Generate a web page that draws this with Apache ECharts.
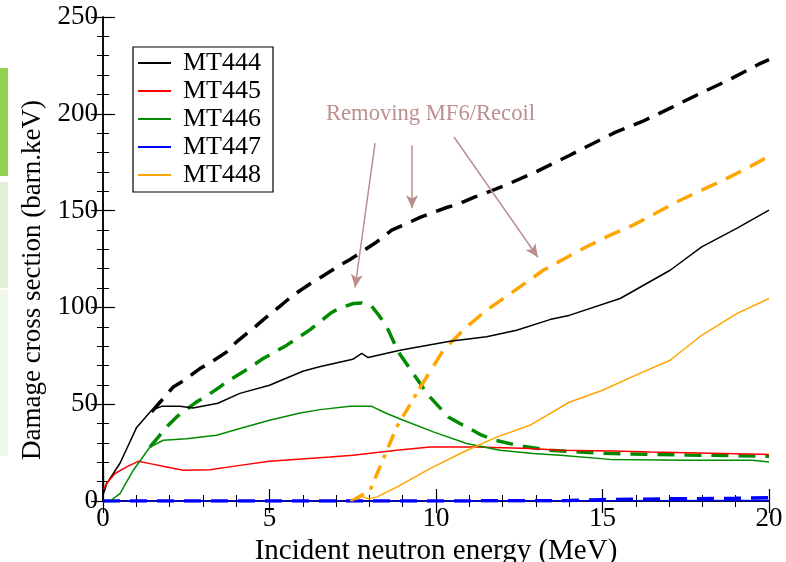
<!DOCTYPE html>
<html lang="en">
<head>
    <meta charset="utf-8">
    <title>Damage cross section</title>
    <script src="https://cdn.jsdelivr.net/npm/echarts@6.0.0/dist/echarts.min.js"></script>
</head>
<body style="margin:0; background:#fff;">
    <div id="main" style="width:786px; height:562px;"></div>

<script type="text/javascript">
// legend names (solid curves), dashed curves are the "removing MF6/recoil" versions
var names = ['MT444', 'MT445', 'MT446', 'MT447', 'MT448'];
var colors = ['#000000', '#ff0000', '#008b00', '#0000ff', '#ffa500'];

// [energy MeV, damage barn.keV]
var mt444 = [[0,32],[0.02,4],[0.11,9],[0.51,19.5],[1.01,38],[1.46,46.9],[1.76,48.9],[2.31,49],[2.7,48],
    [3.45,50.5],[4.11,55.6],[5.0,59.8],[6.0,67],[6.5,69.3],[7.5,73.2],[7.77,76.2],[7.96,74.1],[8.92,77.9],
    [10.42,82.5],[11.52,84.8],[12.42,88.2],[13.42,93.7],[14.02,96],[15.53,104.6],[17.03,119.2],
    [17.98,131.3],[19.03,140.8],[20,150.2]];
var mt445 = [[0.02,6],[0.11,9],[0.36,14.2],[0.71,17.6],[1.06,20.5],[1.41,19.3],[1.91,17.6],[2.41,15.9],
    [3.21,16.2],[4.11,18.4],[5.0,20.5],[6.82,22.7],[7.5,23.6],[8.82,26.2],[9.82,27.9],[11.22,27.9],
    [12.82,27.1],[13.73,26.2],[15.33,25.8],[16.43,25.3],[19.73,24.1],[20,24]];
var mt446 = [[0.21,0],[0.51,3.8],[0.91,15.9],[1.41,27.9],[1.81,31.4],[2.51,32.2],[3.41,34],[4.11,37.4],
    [5.0,41.7],[5.92,45.5],[6.52,47.2],[7.42,48.9],[8.07,48.9],[8.52,45.2],[9.02,41.7],[9.92,35.7],
    [10.92,29.7],[11.92,26.2],[12.92,24.5],[13.73,23.6],[15.23,21.5],[17.53,21],[19.5,21],[20,20.2]];
var mt447 = [[0,0],[5,0],[10,0],[15,0.1],[20,0.2]];
var mt448 = [[7.42,0],[7.77,2.4],[7.97,1.2],[8.22,2],[8.82,7.2],[9.82,16.7],[10.82,25.3],
    [11.82,33],[12.82,39.1],[14,51],[15,57.2],[16,65],[17.03,72.7],[17.98,85.6],[19.03,96.8],[20,104.6]];

// removing MF6/recoil (dashed)
var mt444r = [[1.46,46],[1.71,51],[2.11,58.9],[2.41,62],
    [2.91,68.4],[3.21,71.3],[3.76,77.5],[4.01,82.2],[4.56,89.9],[4.86,94.3],[5.41,102],[5.71,106.3],
    [6.27,112.8],[6.57,115.8],[7.12,121.8],[7.42,124.7],[7.92,130.4],[8.22,133.8],[8.67,139.9],
    [9.02,142.5],[9.52,146.5],[9.82,148.5],[10.32,151.6],[10.67,153.3],[11.17,157.1],[11.47,158.9],
    [12.02,162.6],[13,170],[14.02,178.6],[14.52,183],[15.38,190.4],[16.18,195.9],[17.08,203.3],
    [17.93,210.5],[18.83,217.8],[19.68,225.5],[20,228]];
var mt446r = [[1.41,27.9],[1.66,33],[1.86,37.4],[2.21,43.4],[2.41,46],
    [2.81,51.2],[3.06,53.7],[3.51,58.9],[3.71,61.5],[4.21,66.7],[4.81,73.6],[5.52,80.5],[6.22,88.5],
    [6.82,96.8],[7.07,99.4],[7.52,102],[7.77,102.3],[8.07,100.6],[8.32,95.1],[8.57,88.2],[8.87,77],
    [9.32,65.8],[9.77,54.6],[10.37,43.4],[10.72,40],[11.02,37.4],[11.37,34],[11.77,31.4],[12.42,28.8],
    [13.42,26.2],[14.83,24.8],[15.33,24.5],[17.5,23.8],[20,23.1]];
var mt447r = [[0,0],[5,0],[10,0],[14,0.2],[15,0.7],[17,1.1],[19,1.4],[20,1.7]];
var mt448rLow = [[7.47,0],[8.02,5.5],[8.82,38.2],[9.5,58]];
var mt448r = [[9.5,58],[10.22,77.9],[10.92,89.9],[11.52,98.6],
    [12.52,110.6],[13.22,119.2],[13.87,125.3],[14.52,131.3],[15.23,137.3],[15.92,142.5],[16.58,148.5],
    [17.23,154.5],[17.98,160.6],[18.63,165.7],[19.33,171.8],[20,178.1]];

// annotation arrows [from, to] in data coords
var arrows = [[[8.17,184.9],[7.57,110.3]], [[9.28,183.8],[9.28,151.2]], [[10.54,188],[13.06,125.9]]];

var font = "'Liberation Serif', 'DejaVu Serif', 'Times New Roman', serif";
var myChart = echarts.init(document.getElementById('main'));

function solid(name, data, color) {
  return { name: name, type: 'line', data: data, symbol: 'none', z: 3,
    lineStyle: { color: color, width: 1.5 }, itemStyle: { color: color } };
}
function dashed(data, color, dash) {
  return { name: '', type: 'line', data: data, symbol: 'none', z: 2,
    lineStyle: { color: color, width: 3.5, type: dash || [17, 10] }, itemStyle: { color: color } };
}

var series = [
  dashed(mt444r, colors[0]), dashed(mt446r, colors[2]),
  dashed(mt447r, colors[3]), dashed(mt448r, colors[4]),
  dashed(mt448rLow, colors[4], [14, 8, 4, 8]),
  solid(names[0], mt444, colors[0]), solid(names[1], mt445, colors[1]), solid(names[2], mt446, colors[2]),
  solid(names[3], mt447, colors[3]), solid(names[4], mt448, colors[4])
];
series[0].markLine = {
  silent: true, symbol: ['none', 'arrow'], symbolSize: [9, 13],
  label: { show: false },
  lineStyle: { color: '#bc8f8f', width: 1.5, type: 'solid' },
  data: arrows.map(function (a) { return [{ coord: a[0] }, { coord: a[1] }]; })
};

var axisCommon = {
  axisLine: { lineStyle: { color: '#000', width: 1.5 } },
  axisTick: { inside: true, length: 12, lineStyle: { color: '#000', width: 1.2 } },
  minorTick: { show: true, splitNumber: 5, length: 6, lineStyle: { color: '#000', width: 1 } },
  splitLine: { show: false }
};

myChart.setOption({
  animation: false,
  textStyle: { fontFamily: font },
  grid: { left: 103, right: 17, top: 17, bottom: 61, containLabel: false, outerBoundsMode: 'none' },
  graphic: [
    { type: 'rect', shape: { x: 0, y: 68, width: 8, height: 108 }, style: { fill: '#92d050' } },
    { type: 'rect', shape: { x: 0, y: 182, width: 8, height: 106 }, style: { fill: '#e2f0d9' } },
    { type: 'rect', shape: { x: 0, y: 290, width: 8, height: 166 }, style: { fill: '#eff7ec' } },
    { type: 'text', left: 326, top: 103,
      style: { text: 'Removing MF6/Recoil', fill: '#bc8f8f', fontFamily: font, fontSize: 22.6 } }
  ],
  legend: {
    data: names, left: 133, top: 47, orient: 'vertical', icon: 'rect',
    borderColor: '#000', borderWidth: 1.2, padding: [3, 12, 4, 5],
    itemGap: 2, itemWidth: 33, itemHeight: 2,
    textStyle: { fontFamily: font, fontSize: 26, lineHeight: 26, color: '#000', padding: [0, 0, 0, 7] }
  },
  xAxis: [
    Object.assign({}, axisCommon, {
      type: 'value', min: 0, max: 20, interval: 5,
      name: 'Incident neutron energy (MeV)', nameLocation: 'middle', nameGap: 31,
      nameTextStyle: { fontFamily: font, fontSize: 29, color: '#000' },
      axisLabel: { fontFamily: font, fontSize: 27, color: '#000', margin: 4 }
    }),
    Object.assign({}, axisCommon, {
      type: 'value', min: 0, max: 20, interval: 5, position: 'top',
      axisLabel: { show: false }
    })
  ],
  yAxis: [
    Object.assign({}, axisCommon, {
      type: 'value', min: 0, max: 250, interval: 50,
      name: 'Damage cross section (barn.keV)', nameLocation: 'middle', nameGap: 50,
      nameTextStyle: { fontFamily: font, fontSize: 27, color: '#000', padding: [0, 42, 0, 0] },
      axisLabel: { fontFamily: font, fontSize: 27, color: '#000', margin: 5 }
    }),
    Object.assign({}, axisCommon, {
      type: 'value', min: 0, max: 250, interval: 50, position: 'right',
      axisLabel: { show: false }
    })
  ],
  series: series
});
</script>
</body>
</html>
